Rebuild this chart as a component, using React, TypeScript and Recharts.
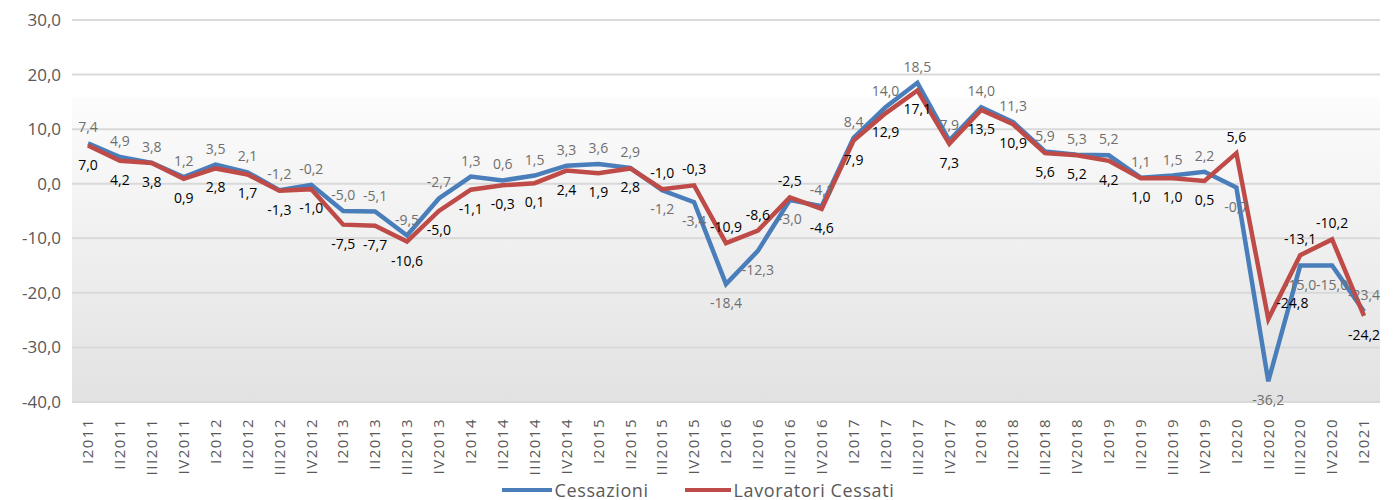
import React from 'react';
import { LineChart, Line, XAxis, YAxis, CartesianGrid, Legend } from 'recharts';

const categories = [
  'I2011', 'II2011', 'III2011', 'IV2011',
  'I2012', 'II2012', 'III2012', 'IV2012',
  'I2013', 'II2013', 'III2013', 'IV2013',
  'I2014', 'II2014', 'III2014', 'IV2014',
  'I2015', 'II2015', 'III2015', 'IV2015',
  'I2016', 'II2016', 'III2016', 'IV2016',
  'I2017', 'II2017', 'III2017', 'IV2017',
  'I2018', 'II2018', 'III2018', 'IV2018',
  'I2019', 'II2019', 'III2019', 'IV2019',
  'I2020', 'II2020', 'III2020', 'IV2020',
  'I2021',
];

const cessazioni = [
  7.4, 4.9, 3.8, 1.2, 3.5, 2.1, -1.2, -0.2, -5.0, -5.1, -9.5, -2.7,
  1.3, 0.6, 1.5, 3.3, 3.6, 2.9, -1.2, -3.4, -18.4, -12.3, -3.0, -4.1,
  8.4, 14.0, 18.5, 7.9, 14.0, 11.3, 5.9, 5.3, 5.2, 1.1, 1.5, 2.2,
  -0.7, -36.2, -15.0, -15.0, -23.4,
];

const lavoratoriCessati = [
  7.0, 4.2, 3.8, 0.9, 2.8, 1.7, -1.3, -1.0, -7.5, -7.7, -10.6, -5.0,
  -1.1, -0.3, 0.1, 2.4, 1.9, 2.8, -1.0, -0.3, -10.9, -8.6, -2.5, -4.6,
  7.9, 12.9, 17.1, 7.3, 13.5, 10.9, 5.6, 5.2, 4.2, 1.0, 1.0, 0.5,
  5.6, -24.8, -13.1, -10.2, -24.2,
];

const yTicks = [30, 20, 10, 0, -10, -20, -30, -40];

const data = categories.map((name, i) => ({
  name,
  Cessazioni: cessazioni[i],
  'Lavoratori Cessati': lavoratoriCessati[i],
}));

const FONT = '"Open Sans", "Liberation Sans", sans-serif';
const BLUE = '#4a7ebb';
const RED = '#be4b48';

const fmt = (v: number) => v.toFixed(1).replace('.', ',');

// gray labels for Cessazioni, black for Lavoratori; put each on the side away from the other line
function makeLabel(which: 'blue' | 'red') {
  return (props: any) => {
    const { x, y, index } = props;
    if (x == null || y == null) return null;
    const b = cessazioni[index];
    const r = lavoratoriCessati[index];
    const above = which === 'blue' ? b >= r : r > b;
    const v = which === 'blue' ? b : r;
    // big gap between the lines: push the upper label sideways so it clears the other line
    const far = Math.abs(b - r) > 8 && above;
    return (
      <text
        key={`${which}-${index}`}
        x={far ? x + 8 : x}
        y={above ? y - 11 : y + 24}
        textAnchor={far ? 'start' : 'middle'}
        fontFamily={FONT}
        fontSize={14}
        fill={which === 'blue' ? '#6f6f6f' : '#000'}
      >
        {fmt(v)}
      </text>
    );
  };
}

const XTick = ({ x, y, payload }: any) => (
  <text
    transform={`translate(${x},${y + 8}) rotate(-90)`}
    textAnchor="end"
    dy="0.35em"
    fontFamily={FONT}
    fontSize={15}
    letterSpacing={1.5}
    fill="#595959"
  >
    {payload.value}
  </text>
);

const LegendContent = () => (
  <div
    style={{
      display: 'flex',
      justifyContent: 'center',
      alignItems: 'center',
      fontFamily: FONT,
      fontSize: 18,
      letterSpacing: 0.6,
      color: '#595959',
      paddingLeft: 16,
      paddingTop: 4,
    }}
  >
    <span style={{ display: 'inline-block', width: 50, height: 4, background: BLUE, marginRight: 3 }} />
    <span style={{ marginRight: 36 }}>Cessazioni</span>
    <span style={{ display: 'inline-block', width: 46, height: 4, background: RED, marginRight: 3 }} />
    <span>Lavoratori Cessati</span>
  </div>
);

export default function App() {
  return (
    <div style={{ position: 'absolute', left: 0, top: 0, background: '#fff' }}>
      <LineChart
        width={1393}
        height={500}
        data={data}
        margin={{ top: 20, right: 13, left: 0, bottom: 0 }}
      >
        <defs>
          <linearGradient id="plotBg" x1="0" y1="0" x2="0" y2="1">
            <stop offset="0" stopColor="#ffffff" />
            <stop offset="0.2" stopColor="#ffffff" />
            <stop offset="0.205" stopColor="#fcfcfc" />
            <stop offset="1" stopColor="#e2e2e2" />
          </linearGradient>
        </defs>
        <CartesianGrid
          vertical={false}
          stroke="#d9d9d9"
          strokeWidth={2}
          fill="url(#plotBg)"
        />
        <XAxis
          dataKey="name"
          interval={0}
          axisLine={false}
          tickLine={false}
          height={72}
          padding={{ left: 16, right: 16 }}
          tick={<XTick />}
        />
        <YAxis
          domain={[-40, 30]}
          ticks={yTicks}
          width={72}
          axisLine={false}
          tickLine={false}
          tickMargin={5}
          tickFormatter={fmt}
          tick={{ fill: '#595959', fontSize: 17, fontFamily: FONT }}
        />
        <Legend verticalAlign="bottom" height={26} content={<LegendContent />} />
        <Line
          type="linear"
          dataKey="Cessazioni"
          stroke={BLUE}
          strokeWidth={4.5}
          dot={false}
          isAnimationActive={false}
          label={makeLabel('blue')}
        />
        <Line
          type="linear"
          dataKey="Lavoratori Cessati"
          stroke={RED}
          strokeWidth={4.5}
          dot={false}
          isAnimationActive={false}
          label={makeLabel('red')}
        />
      </LineChart>
    </div>
  );
}
